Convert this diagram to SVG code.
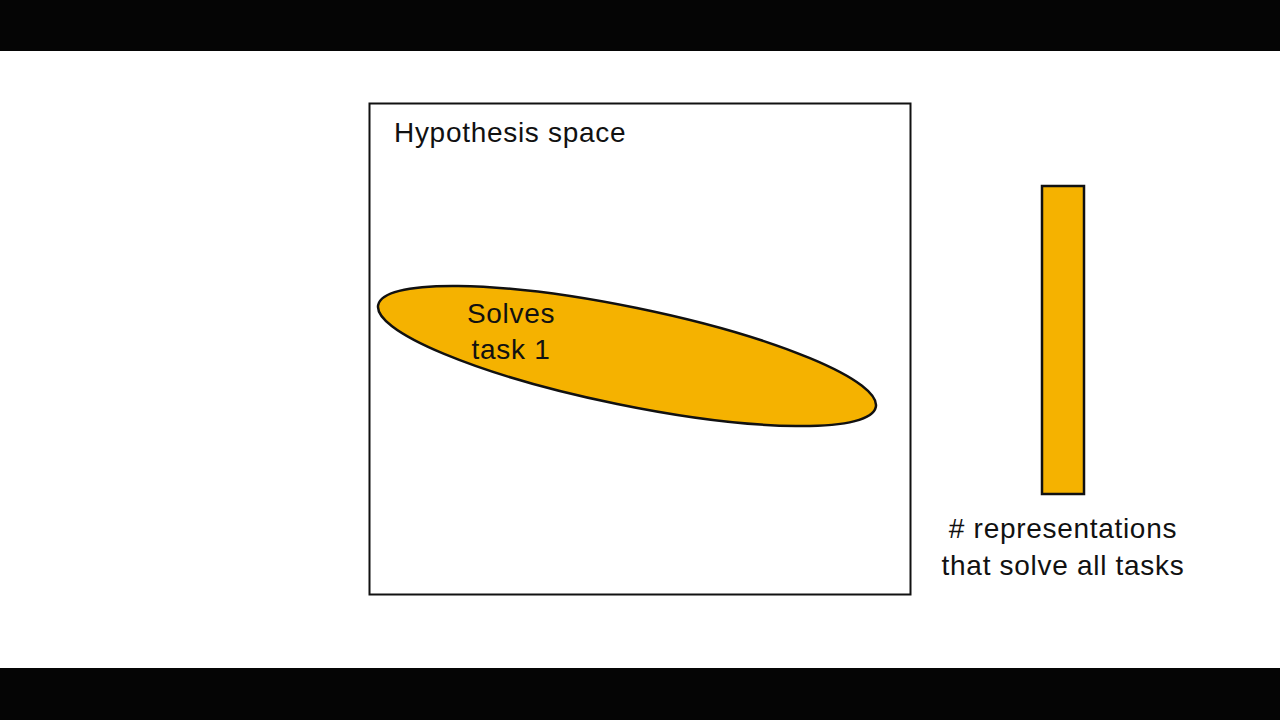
<svg xmlns="http://www.w3.org/2000/svg" width="1280" height="720" viewBox="0 0 1280 720">
<style>
.t{font-family:"Liberation Sans",Arial,sans-serif;font-size:28px;letter-spacing:0.7px;fill:#111}
.c{text-anchor:middle}
.gold{fill:#F5B200;stroke:#111;stroke-width:2.5}
</style>
<rect width="1280" height="720" fill="#fff"/>
<rect x="0" y="0" width="1280" height="51" fill="#050505"/>
<rect x="0" y="668" width="1280" height="52" fill="#050505"/>
<g id="hypothesis-space">
<rect x="369.5" y="103.5" width="541" height="491" fill="#fff" stroke="#111" stroke-width="2"/>
<text class="t" x="394" y="142">Hypothesis space</text>
</g>
<g id="task1">
<ellipse class="gold" cx="627" cy="356" rx="254" ry="49" transform="rotate(11.6 627 356)"/>
<text class="t c" x="511" y="323">Solves</text>
<text class="t c" x="511" y="359">task 1</text>
</g>
<g id="bar">
<rect class="gold" x="1042" y="186" width="42" height="308"/>
<text class="t c" x="1063" y="538"># representations</text>
<text class="t c" x="1063" y="575">that solve all tasks</text>
</g>
<g id="connectors"/>
</svg>
